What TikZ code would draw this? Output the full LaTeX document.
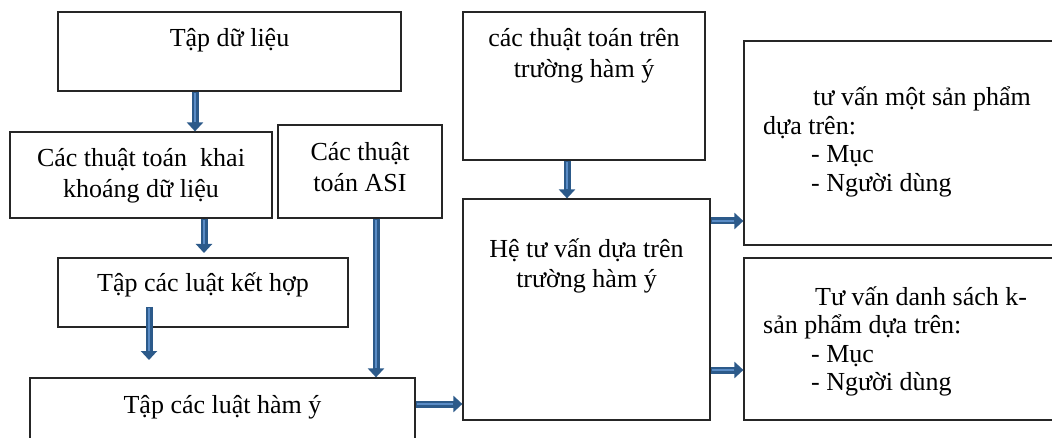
\documentclass[tikz,border=0pt]{standalone}
\usepackage{fontspec}
\setmainfont{Liberation Serif}
\usetikzlibrary{arrows.meta}
\definecolor{arrdark}{HTML}{2C5A8A}
\definecolor{arrlight}{HTML}{5A8CC6}
\definecolor{boxline}{HTML}{262626}
\tikzset{
  box/.style={draw=boxline, line width=1.2pt, inner sep=0pt, fill=none},
  txt/.style={inner sep=0pt, font=\fontsize{26}{31}\selectfont, align=center, anchor=base},
  rtxt/.style={inner sep=0pt, font=\fontsize{26}{28.5}\selectfont, align=left, anchor=base west},
  barrow/.style={draw=arrdark, line width=7pt, -{Triangle[width=16pt,length=9pt]}},
  barrowin/.style={draw=arrlight, line width=2.6pt, shorten >=9pt, shorten <=1.5pt}
}
\begin{document}
\begin{tikzpicture}[x=1pt,y=-1pt]
\useasboundingbox (0,0) rectangle (1052,438);
\begin{scope}
\clip (0,0) rectangle (1052,438);
% boxes
\node[box, minimum width=343pt, minimum height=79pt]  (b1) at (229.5,51.5) {};
\node[box, minimum width=262pt, minimum height=86pt]  (b2) at (141,175) {};
\node[box, minimum width=164pt, minimum height=93pt]  (b3) at (360,171.5) {};
\node[box, minimum width=242pt, minimum height=148pt] (b4) at (584,86) {};
\node[box, minimum width=290pt, minimum height=69pt]  (b5) at (203,292.5) {};
\node[box, minimum width=385pt, minimum height=72pt]  (b6) at (222.5,414) {};
\node[box, minimum width=247pt, minimum height=221pt] (b7) at (586.5,309.5) {};
\node[box, minimum width=316pt, minimum height=204pt] (b8) at (902,143) {};
\node[box, minimum width=316pt, minimum height=162pt] (b9) at (902,339) {};
% texts (anchor = baseline of the last line)
\node[txt] (t1) at (229.5,47) {Tập dữ liệu};
\node[txt] (t2) at (141,198) {Các thuật toán~ khai\\khoáng dữ liệu};
\node[txt] (t3) at (360,192) {Các thuật\\toán ASI};
\node[txt] (t4) at (584,78) {các thuật toán trên\\trường hàm ý};
\node[txt] (t5) at (203,292) {Tập các luật kết hợp};
\node[txt] (t6) at (222.5,413) {Tập các luật hàm ý};
\node[txt] (t7) at (586.5,288) {Hệ tư vấn dựa trên\\trường hàm ý};
\node[rtxt] (t8) at (763,191.5) {\hspace*{50pt}tư vấn một sản phẩm\\dựa trên:\\\hspace*{48pt}- Mục\\\hspace*{48pt}- Người dùng};
\node[rtxt] (t9) at (763,390.5) {\hspace*{52pt}Tư vấn danh sách k-\\sản phẩm dựa trên:\\\hspace*{48pt}- Mục\\\hspace*{48pt}- Người dùng};
% free arrow ends
\coordinate (a2e) at (204,253);
\coordinate (a3s) at (149,307);
\coordinate (a3e) at (149,360);
% arrows
\draw[barrow] ([xshift=-34.5pt]b1.south) -- ([xshift=54pt]b2.north);
\draw[barrowin] ([xshift=-34.5pt]b1.south) -- ([xshift=54pt]b2.north);
\draw[barrow] ([xshift=63pt]b2.south) -- (a2e);
\draw[barrowin] ([xshift=63pt]b2.south) -- (a2e);
\draw[barrow] (a3s) -- (a3e);
\draw[barrowin] (a3s) -- (a3e);
\draw[barrow] ([xshift=16pt]b3.south) -- ([xshift=153.5pt]b6.north);
\draw[barrowin] ([xshift=16pt]b3.south) -- ([xshift=153.5pt]b6.north);
\draw[barrow] ([yshift=10pt]b6.east) -- ([yshift=-94.5pt]b7.west);
\draw[barrowin] ([yshift=10pt]b6.east) -- ([yshift=-94.5pt]b7.west);
\draw[barrow] ([xshift=-17pt]b4.south) -- ([xshift=-19.5pt]b7.north);
\draw[barrowin] ([xshift=-17pt]b4.south) -- ([xshift=-19.5pt]b7.north);
\draw[barrow] ([yshift=88.5pt]b7.east) -- ([yshift=-78pt]b8.west);
\draw[barrowin] ([yshift=88.5pt]b7.east) -- ([yshift=-78pt]b8.west);
\draw[barrow] ([yshift=-60.5pt]b7.east) -- ([yshift=-31pt]b9.west);
\draw[barrowin] ([yshift=-60.5pt]b7.east) -- ([yshift=-31pt]b9.west);
\end{scope}
\end{tikzpicture}
\end{document}
